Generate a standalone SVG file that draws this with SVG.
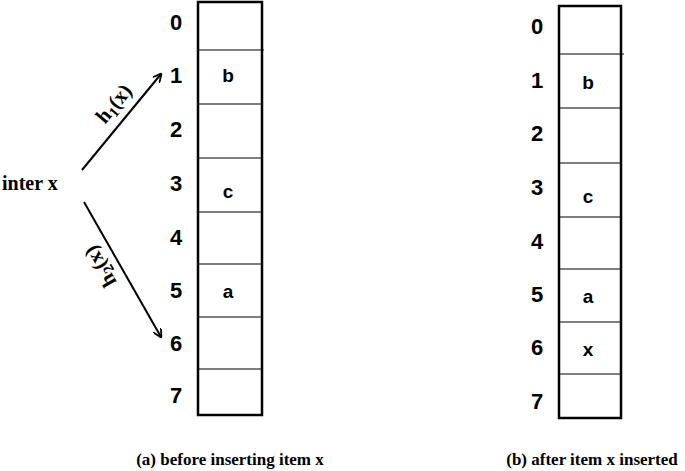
<svg xmlns="http://www.w3.org/2000/svg" width="685" height="471" viewBox="0 0 685 471">
<style>
.box{fill:none;stroke:#000;stroke-width:2.5}
.div{stroke:#000;stroke-width:1}
.num{font-family:"Liberation Sans",Arial,sans-serif;font-weight:bold;font-size:22px;text-anchor:middle}
.cell{font-family:"Liberation Sans",Arial,sans-serif;font-weight:bold;font-size:19px;text-anchor:middle}
.ser{font-family:"Liberation Serif","Times New Roman",serif;font-weight:bold}
.arr{stroke:#000;stroke-width:2;fill:none}
</style>
<defs><marker id="ah" viewBox="0 0 10 10" refX="9" refY="5" markerWidth="9" markerHeight="9" orient="auto" markerUnits="userSpaceOnUse"><path d="M0,0 L10,5 L0,10" fill="none" stroke="#000" stroke-width="2"/></marker></defs>
<rect width="685" height="471" fill="#fff"/>
<g id="tableA">
<rect class="box" x="198" y="2" width="64" height="413"/>
<line class="div" x1="198" y1="50" x2="264" y2="50"/>
<line class="div" x1="198" y1="104" x2="262" y2="104"/>
<line class="div" x1="198" y1="158" x2="262" y2="158"/>
<line class="div" x1="198" y1="212" x2="262" y2="212"/>
<line class="div" x1="198" y1="264" x2="262" y2="264"/>
<line class="div" x1="198" y1="317" x2="262" y2="317"/>
<line class="div" x1="198" y1="369" x2="262" y2="369"/>
<g class="num"><text x="176" y="30">0</text><text x="176" y="83">1</text><text x="176" y="137">2</text><text x="176" y="191">3</text><text x="176" y="245">4</text><text x="176" y="298">5</text><text x="176" y="351">6</text><text x="176" y="403">7</text></g>
<g class="cell"><text x="228" y="82">b</text><text x="228" y="198">c</text><text x="228" y="298">a</text></g>
</g>
<g id="tableB">
<rect class="box" x="559" y="6" width="62" height="412"/>
<line class="div" x1="559" y1="54" x2="624" y2="54"/>
<line class="div" x1="559" y1="108" x2="621" y2="108"/>
<line class="div" x1="559" y1="163" x2="621" y2="163"/>
<line class="div" x1="559" y1="217" x2="621" y2="217"/>
<line class="div" x1="559" y1="269" x2="621" y2="269"/>
<line class="div" x1="559" y1="322" x2="621" y2="322"/>
<line class="div" x1="559" y1="374" x2="621" y2="374"/>
<g class="num"><text x="537" y="34">0</text><text x="537" y="88">1</text><text x="537" y="141">2</text><text x="537" y="195">3</text><text x="537" y="249">4</text><text x="537" y="302">5</text><text x="537" y="355">6</text><text x="537" y="409">7</text></g>
<g class="cell"><text x="588" y="89">b</text><text x="588" y="203">c</text><text x="588" y="303">a</text><text x="588" y="356">x</text></g>
</g>
<g id="source"><text class="ser" x="2" y="190" font-size="20">inter x</text></g>
<g id="connectors">
<line class="arr" x1="82" y1="170" x2="161" y2="74" marker-end="url(#ah)"/>
<line class="arr" x1="84" y1="202" x2="161" y2="337" marker-end="url(#ah)"/>
<text class="ser" font-size="21" text-anchor="middle" transform="translate(119,108) rotate(-50)">h<tspan font-size="15" dy="4">1</tspan><tspan font-size="21" dy="-4">(x)</tspan></text>
<text class="ser" font-size="21" text-anchor="middle" transform="translate(106,263) rotate(240)">h<tspan font-size="15" dy="4">2</tspan><tspan font-size="21" dy="-4">(x)</tspan></text>
</g>
<g id="captions">
<text class="ser" x="230" y="465" font-size="17" text-anchor="middle">(a) before inserting item x</text>
<text class="ser" x="592" y="465" font-size="17" text-anchor="middle">(b) after item x inserted</text>
</g>
</svg>
